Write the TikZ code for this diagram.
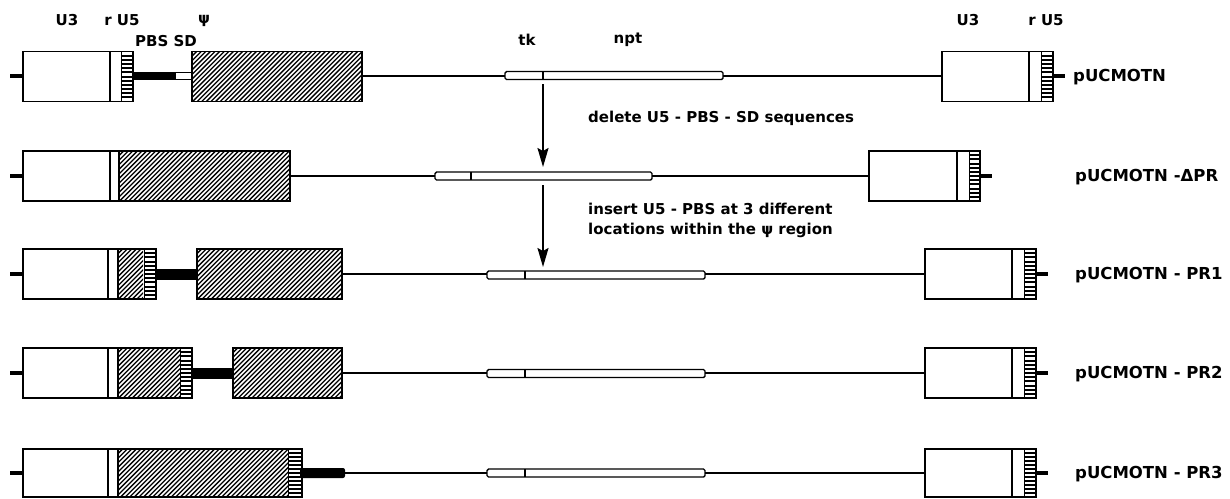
\documentclass[tikz,border=0pt]{standalone}
\usepackage{fontspec}
\setmainfont{DejaVu Sans}
\usetikzlibrary{arrows.meta}
\newcommand\hatchrect[4]{%
  \begin{scope}
    \clip (#1,#2) rectangle (#3,#4);
    \pgfmathsetmacro\hH{#4-#2}
    \pgfmathsetmacro\hW{#3-#1+#4-#2}
    \foreach \t in {0,4.6,...,\hW} \draw[line width=1.3pt] ({#1-\hH+\t},#4) -- ++(\hH,-\hH);
  \end{scope}}
\newcommand\ladder[4]{%
  \draw[line width=0.8pt] (#1,#2) -- (#1,#4);
  \foreach \t in {1,...,11} \draw[line width=2pt] (#1,{#2+\t*(#4-#2)/12}) -- (#3,{#2+\t*(#4-#2)/12});}
\begin{document}
\begin{tikzpicture}[x=1pt,y=-1pt]
\tikzset{
  box/.style={draw, line width=1.7pt},
  dna/.style={line width=1.3pt},
  stub/.style={line width=3.5pt},
  tkbox/.style={draw, line width=1.4pt, rounded corners=1.5pt},
  lbl/.style={font=\bfseries\fontsize{15}{15}\selectfont, inner sep=0},
  pname/.style={font=\bfseries\fontsize{16.5}{17}\selectfont, anchor=west, inner sep=0},
  note/.style={font=\bfseries\fontsize{15}{20}\selectfont, anchor=west, align=left, inner sep=0},
  arr/.style={-{Stealth[length=19pt,width=11pt,inset=3pt]}, line width=1.8pt}
}
\useasboundingbox (0,0) rectangle (1230,498);

% ---------- labels on top ----------
\node[lbl] (lU3a) at (67,20) {U3};
\node[lbl] (lU5a) at (122,20) {r U5};
\node[lbl] (lPBS) at (166,41) {PBS SD};
\node[lbl] (lpsi) at (204,21) {ψ};
\node[lbl] (ltk) at (527,40) {tk};
\node[lbl] (lnpt) at (628,40) {npt};
\node[lbl] (lU3b) at (968,20) {U3};
\node[lbl] (lU5b) at (1046,20) {r U5};

% ---------- row 1: pUCMOTN ----------
\draw[stub] (10,76) -- (23,76);
\draw[box] (23,51.5) rectangle (133,101.5);
\draw[box] (110,51.5) -- (110,101.5);
\ladder{121}{51.5}{133}{101.5}
\fill (133,72) rectangle (175,80);
\draw[line width=1.2pt] (175,72.5) rectangle (192,79.5);
\hatchrect{192}{51.5}{362}{101.5}
\draw[box] (192,51.5) rectangle (362,101.5);
\draw[dna] (362,76) -- (505,76);
\draw[tkbox] (505,71.5) rectangle (723,79.5);
\draw[line width=1.2pt] (543,71.5) -- (543,79.5);
\coordinate (a1s) at (543,84);
\draw[dna] (723,76) -- (942,76);
\draw[box] (942,51.5) rectangle (1053,101.5);
\draw[box] (1029,51.5) -- (1029,101.5);
\ladder{1041}{51.5}{1053}{101.5}
\draw[stub] (1053,76) -- (1065,76);
\node[pname] (n1) at (1073,77) {pUCMOTN};

% ---------- row 2: pUCMOTN -dPR ----------
\draw[stub] (10,176) -- (23,176);
\hatchrect{119}{151}{290}{201}
\draw[box] (23,151) rectangle (290,201);
\draw[box] (110,151) -- (110,201);
\draw[box] (119,151) -- (119,201);
\draw[dna] (290,176) -- (435,176);
\draw[tkbox] (435,172) rectangle (652,180);
\draw[line width=1.2pt] (471,172) -- (471,180);
\coordinate (a1e) at (543,167);
\coordinate (a2s) at (543,185);
\draw[dna] (652,176) -- (869,176);
\draw[box] (869,151) rectangle (980,201);
\draw[box] (957,151) -- (957,201);
\ladder{969}{151}{980}{201}
\draw[stub] (980,176) -- (992,176);
\node[pname] (n2) at (1075,177) {pUCMOTN -ΔPR};

% ---------- arrows and notes ----------
\draw[arr] (a1s) -- (a1e);
\node[note] (t1) at (588,118) {delete U5 - PBS - SD sequences};
\coordinate (a2e) at (543,267);
\draw[arr] (a2s) -- (a2e);
\node[note] (t2) at (588,220) {insert U5 - PBS at 3 different\\locations within the ψ region};

% ---------- row 3: PR1 ----------
\draw[stub] (10,274) -- (23,274);
\hatchrect{118}{249}{143}{299}
\draw[box] (23,249) rectangle (156,299);
\draw[box] (108,249) -- (108,299);
\draw[box] (118,249) -- (118,299);
\draw[line width=0.8pt] (144,249) -- (144,299);
\ladder{144}{249}{156}{299}
\fill (156,269) rectangle (197,280);
\hatchrect{197}{249}{342}{299}
\draw[box] (197,249) rectangle (342,299);
\draw[dna] (342,274) -- (487,274);
\draw[tkbox] (487,271) rectangle (705,279);
\draw[line width=1.2pt] (525,271) -- (525,279);
\draw[dna] (705,274) -- (925,274);
\draw[box] (925,249) rectangle (1036,299);
\draw[box] (1012,249) -- (1012,299);
\ladder{1024}{249}{1036}{299}
\draw[stub] (1036,274) -- (1048,274);
\node[pname] (n3) at (1075,275) {pUCMOTN - PR1};

% ---------- row 4: PR2 ----------
\draw[stub] (10,373) -- (23,373);
\hatchrect{118}{348}{180}{398}
\draw[box] (23,348) rectangle (192,398);
\draw[box] (108,348) -- (108,398);
\draw[box] (118,348) -- (118,398);
\ladder{180}{348}{192}{398}
\fill (192,368) rectangle (233,379);
\hatchrect{233}{348}{342}{398}
\draw[box] (233,348) rectangle (342,398);
\draw[dna] (342,373) -- (487,373);
\draw[tkbox] (487,369.5) rectangle (705,377.5);
\draw[line width=1.2pt] (525,369.5) -- (525,377.5);
\draw[dna] (705,373) -- (925,373);
\draw[box] (925,348) rectangle (1036,398);
\draw[box] (1012,348) -- (1012,398);
\ladder{1024}{348}{1036}{398}
\draw[stub] (1036,373) -- (1048,373);
\node[pname] (n4) at (1075,374) {pUCMOTN - PR2};

% ---------- row 5: PR3 ----------
\draw[stub] (10,473) -- (23,473);
\hatchrect{118}{449}{288}{497}
\draw[box] (23,449) rectangle (302,497);
\draw[box] (108,449) -- (108,497);
\draw[box] (118,449) -- (118,497);
\ladder{288}{449}{302}{497}
\fill[rounded corners=2pt] (300,468) rectangle (345,478);
\draw[dna] (345,473) -- (487,473);
\draw[tkbox] (487,469) rectangle (705,477);
\draw[line width=1.2pt] (525,469) -- (525,477);
\draw[dna] (705,473) -- (925,473);
\draw[box] (925,449) rectangle (1036,497);
\draw[box] (1012,449) -- (1012,497);
\ladder{1024}{449}{1036}{497}
\draw[stub] (1036,473) -- (1048,473);
\node[pname] (n5) at (1075,474) {pUCMOTN - PR3};
\end{tikzpicture}
\end{document}
